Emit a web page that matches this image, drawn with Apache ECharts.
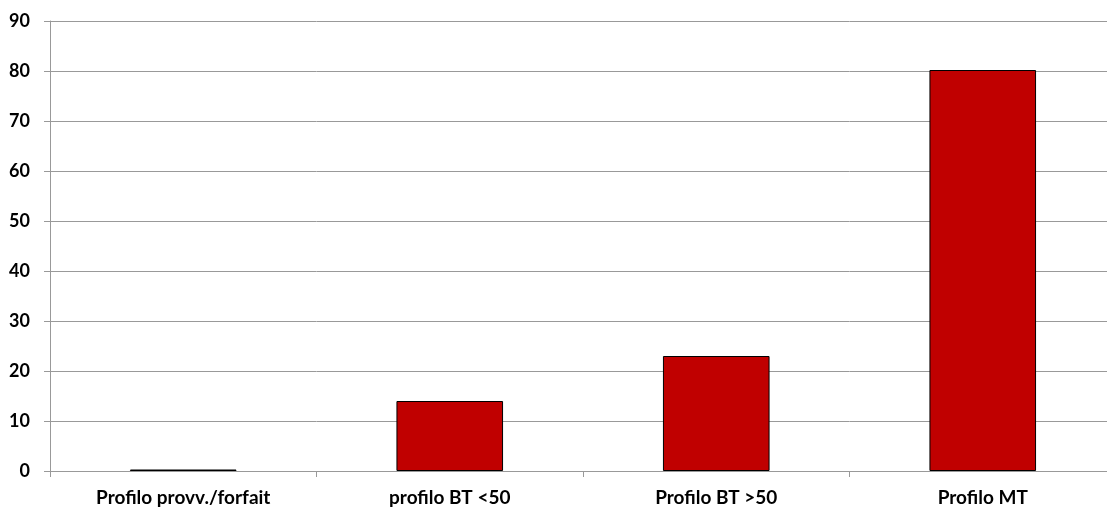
<!DOCTYPE html>
<html><head><meta charset="utf-8">
<script src="https://cdn.jsdelivr.net/npm/echarts@6/dist/echarts.min.js"></script>
<style>html,body{margin:0;padding:0;background:#fff;overflow:hidden;width:1107px;height:507px}#c{width:1116px;height:507px}</style>
</head><body><div id="c"></div>
<script>
const categories = ['Profilo provv./forfait', 'profilo BT <50', 'Profilo BT >50', 'Profilo MT'];
const values = [0.3, 14, 23, 80.2];
const yTicks = [0, 10, 20, 30, 40, 50, 60, 70, 80, 90];

const chart = echarts.init(document.getElementById('c'));
chart.setOption({
  animation: false,
  grid: { left: 50, right: 0, top: 21, bottom: 36, containLabel: false },
  xAxis: {
    type: 'category', data: categories,
    axisLine: { lineStyle: { color: '#999', width: 1 } },
    axisTick: { show: true, length: 6, lineStyle: { color: '#999' } },
    axisLabel: { color: '#000', fontFamily: 'Lato', fontWeight: 'bold', fontSize: 19, margin: 17 }
  },
  yAxis: {
    type: 'value', min: 0, max: 90, interval: 10,
    axisLine: { show: true, lineStyle: { color: '#999', width: 1 } },
    axisTick: { show: true, length: 6, lineStyle: { color: '#999' } },
    splitLine: { lineStyle: { color: '#999', width: 1 } },
    axisLabel: { color: '#000', fontFamily: 'Lato', fontWeight: 'bold', fontSize: 18, margin: 20,
      formatter: v => yTicks.includes(v) ? String(v) : '' }
  },
  series: [{
    type: 'bar', data: values, barWidth: '40%',
    itemStyle: { color: '#c00000', borderColor: '#000', borderWidth: 1 }
  }]
});
</script></body></html>
